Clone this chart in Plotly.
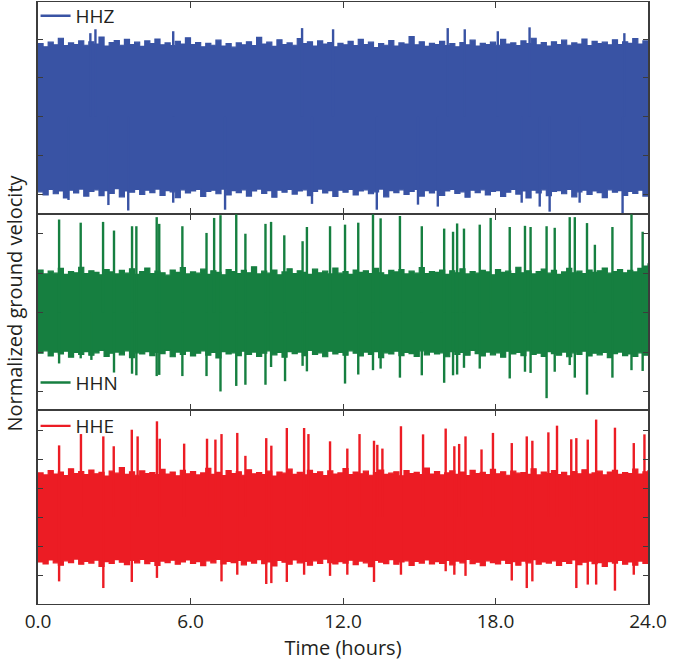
import numpy as np
import plotly.graph_objects as go
from plotly.subplots import make_subplots

# ---------------- data ----------------
channels = ["HHZ", "HHN", "HHE"]
colors = {"HHZ": "#3953a4", "HHN": "#167f40", "HHE": "#ec1c24"}

# envelope sample times (hours), every 0.2 h
env_t = np.arange(121) * 0.2

hhz_upper = [1.88, 1.80, 1.92, 1.85, 2.02, 1.83, 1.90, 1.86, 1.95, 1.84,
             1.93, 1.87, 2.05, 1.82, 1.91, 1.96, 1.84, 1.99, 1.86, 1.92,
             1.81, 1.95, 1.88, 2.00, 1.85, 1.90, 1.83, 1.94, 1.87, 2.03,
             1.86, 1.91, 1.80, 1.89, 1.84, 1.97, 1.82, 1.88, 1.79, 1.90,
             1.85, 1.93, 1.83, 2.04, 1.87, 1.92, 1.81, 1.98, 1.86, 1.90,
             1.84, 2.01, 1.88, 1.93, 1.82, 1.95, 1.87, 1.91, 1.80, 1.89,
             1.85, 1.94, 1.83, 1.99, 1.86, 1.92, 1.78, 1.88, 1.84, 1.96,
             1.82, 1.90, 1.87, 2.06, 1.85, 1.93, 1.81, 1.89, 1.86, 1.94,
             1.83, 1.88, 1.80, 1.91, 1.85, 1.97, 1.82, 1.89, 1.86, 1.92,
             1.84, 1.99, 1.87, 1.90, 1.83, 1.95, 1.88, 2.02, 1.85, 1.91,
             1.82, 1.93, 1.86, 1.97, 1.84, 1.90, 1.87, 2.00, 1.83, 1.94,
             1.88, 1.92, 1.85, 1.98, 1.86, 1.93, 1.89, 2.01, 1.87, 1.95, 1.90]
hhz_lower = [-1.92, -2.00, -1.86, -1.97, -1.90, -2.08, -1.88, -1.95, -1.85, -2.03,
             -1.91, -1.87, -2.02, -1.89, -1.96, -1.84, -2.05, -1.90, -1.93, -1.86,
             -1.99, -1.88, -1.94, -1.85, -2.01, -1.89, -1.92, -2.07, -1.87, -1.95,
             -1.90, -1.86, -2.04, -1.91, -1.88, -1.97, -1.85, -2.00, -1.89, -1.94,
             -1.87, -2.03, -1.90, -1.85, -1.96, -1.89, -2.06, -1.88, -1.93, -1.86,
             -1.98, -1.90, -1.87, -2.02, -1.91, -1.85, -1.95, -1.89, -2.04, -1.88,
             -1.93, -1.86, -2.00, -1.90, -1.87, -1.97, -1.92, -1.85, -2.05, -1.89,
             -1.94, -1.87, -1.99, -1.91, -1.86, -2.03, -1.89, -1.95, -1.88, -2.01,
             -1.90, -1.86, -1.96, -1.92, -2.06, -1.88, -1.94, -1.87, -2.00, -1.91,
             -1.89, -2.04, -1.93, -1.86, -1.98, -1.90, -2.08, -1.88, -1.95, -1.87,
             -2.02, -1.91, -1.89, -1.97, -1.86, -2.05, -1.92, -1.88, -1.99, -1.90,
             -1.94, -2.07, -1.87, -1.93, -1.89, -2.01, -1.91, -1.96, -1.88, -2.03, -1.92]
hhz_up_t = [2.06, 2.26, 5.32, 10.39, 11.61, 16.12, 16.79, 18.09, 19.34, 23.07]
hhz_up_v = [2.15, 2.25, 2.20, 2.28, 2.25, 2.28, 2.25, 2.20, 2.30, 2.15]
hhz_dn_t = [1.20, 2.77, 3.55, 5.32, 7.36, 10.78, 13.33, 14.95, 15.73, 19.03,
            19.74, 20.13, 21.31, 23.00]
hhz_dn_v = [-2.13, -2.26, -2.40, -2.20, -2.38, -2.23, -2.38, -2.25, -2.30, -2.20,
            -2.30, -2.43, -2.20, -2.52]

hhn_upper = [1.08, 0.98, 1.05, 1.00, 1.12, 0.97, 1.04, 1.01, 1.15, 0.99,
             1.06, 1.02, 0.96, 1.09, 1.03, 0.98, 1.07, 1.00, 1.11, 0.97,
             1.04, 1.13, 0.99, 1.05, 1.01, 0.95, 1.08, 1.02, 1.14, 0.98,
             1.03, 1.00, 1.10, 0.97, 1.06, 1.02, 0.96, 1.09, 1.04, 0.99,
             1.07, 1.01, 1.16, 0.98, 1.05, 1.00, 1.08, 0.96, 1.03, 1.11,
             0.99, 1.06, 1.02, 0.97, 1.10, 1.01, 1.05, 0.98, 1.13, 1.00,
             1.04, 0.97, 1.08, 1.02, 1.06, 0.99, 1.12, 1.01, 0.96, 1.07,
             1.03, 1.09, 0.98, 1.05, 1.00, 1.14, 0.99, 1.04, 1.02, 1.08,
             0.97, 1.06, 1.01, 1.11, 0.98, 1.04, 1.00, 1.07, 1.03, 0.96,
             1.09, 1.02, 1.05, 0.99, 1.15, 1.01, 1.06, 0.98, 1.04, 1.10,
             1.00, 1.07, 0.97, 1.03, 1.12, 1.01, 1.05, 0.99, 1.08, 1.02,
             1.06, 1.13, 1.00, 1.04, 1.09, 1.01, 1.07, 1.03, 1.12, 1.18, 1.25]
hhn_lower = [-1.03, -0.97, -1.10, -1.00, -1.05, -0.98, -1.13, -1.01, -1.06, -0.99,
             -1.08, -1.02, -0.96, -1.11, -1.03, -1.00, -1.07, -0.97, -1.14, -1.02,
             -1.05, -0.99, -1.09, -1.01, -1.04, -0.96, -1.12, -1.00, -1.06, -0.98,
             -1.10, -1.03, -0.97, -1.08, -1.01, -1.15, -0.99, -1.05, -1.02, -1.09,
             -0.98, -1.06, -1.00, -1.11, -1.03, -0.97, -1.07, -1.01, -1.13, -0.99,
             -1.04, -1.00, -1.09, -0.96, -1.06, -1.02, -1.12, -0.98, -1.05, -1.01,
             -1.08, -0.97, -1.03, -1.10, -1.00, -1.06, -0.99, -1.14, -1.02, -1.05,
             -0.98, -1.09, -1.01, -1.04, -1.11, -0.97, -1.07, -1.00, -1.05, -1.02,
             -1.12, -0.99, -1.06, -1.01, -1.08, -0.96, -1.04, -1.10, -1.00, -1.07,
             -1.02, -1.13, -0.98, -1.05, -1.01, -1.09, -0.97, -1.06, -1.03, -1.11,
             -0.99, -1.04, -1.08, -1.00, -1.12, -1.02, -1.06, -0.98, -1.10, -1.03,
             -1.07, -1.01, -1.14, -1.04, -1.00, -1.09, -1.05, -1.11, -1.02, -1.08, -1.06]
hhn_up_t = [0.83, 1.68, 2.56, 2.99, 3.70, 3.87, 4.67, 4.77, 5.68, 6.63,
            6.93, 7.18, 7.80, 8.16, 8.95, 9.17, 9.69, 10.41, 10.58, 11.49,
            12.08, 12.60, 13.18, 13.48, 14.24, 15.10, 15.98, 16.33, 16.49, 16.76,
            17.38, 17.81, 18.56, 19.16, 19.38, 20.01, 20.33, 20.92, 21.12, 21.60,
            21.91, 22.60, 23.35, 23.79]
hhn_up_v = [2.36, 2.28, 2.30, 2.08, 2.19, 2.19, 2.42, 2.25, 2.19, 2.02,
            2.40, 2.47, 2.49, 2.00, 2.25, 2.30, 1.96, 1.81, 2.17, 2.19,
            2.23, 2.28, 2.49, 2.39, 2.45, 2.19, 2.13, 2.05, 2.26, 2.13,
            2.23, 2.40, 2.17, 2.20, 2.17, 2.19, 2.15, 2.42, 2.42, 2.27,
            1.72, 2.17, 2.49, 2.05]
hhn_dn_t = [0.83, 1.68, 2.10, 2.99, 3.70, 3.87, 4.67, 4.77, 5.68, 6.63,
            7.18, 7.80, 8.16, 8.95, 9.17, 9.72, 10.41, 10.58, 12.08, 12.60,
            13.18, 13.48, 14.24, 15.10, 15.98, 16.33, 16.49, 16.76, 17.38, 18.56,
            19.16, 19.38, 20.01, 20.33, 20.92, 21.12, 21.60, 22.60, 23.35, 23.79]
hhn_dn_v = [-1.29, -1.16, -1.20, -1.52, -1.55, -1.59, -1.61, -1.58, -1.61, -1.61,
            -2.00, -1.86, -1.83, -1.83, -1.38, -1.74, -1.35, -1.49, -1.80, -1.57,
            -1.46, -1.42, -1.65, -1.59, -1.78, -1.59, -1.57, -1.40, -1.42, -1.67,
            -1.50, -1.53, -2.17, -1.50, -1.33, -1.65, -2.08, -1.65, -1.46, -1.48]

hhe_upper = [1.52, 1.45, 1.60, 1.48, 1.55, 1.43, 1.66, 1.50, 1.57, 1.46,
             1.62, 1.49, 1.54, 1.41, 1.58, 1.51, 1.70, 1.47, 1.56, 1.44,
             1.59, 1.50, 1.53, 1.46, 1.64, 1.48, 1.55, 1.42, 1.61, 1.49,
             1.57, 1.45, 1.52, 1.68, 1.47, 1.54, 1.43, 1.60, 1.50, 1.56,
             1.44, 1.63, 1.49, 1.53, 1.46, 1.58, 1.41, 1.55, 1.51, 1.65,
             1.47, 1.54, 1.45, 1.61, 1.50, 1.56, 1.43, 1.59, 1.48, 1.52,
             1.67, 1.46, 1.55, 1.49, 1.58, 1.44, 1.53, 1.62, 1.47, 1.51,
             1.56, 1.42, 1.60, 1.50, 1.54, 1.46, 1.69, 1.48, 1.57, 1.45,
             1.52, 1.59, 1.47, 1.55, 1.43, 1.61, 1.50, 1.54, 1.46, 1.64,
             1.49, 1.56, 1.44, 1.58, 1.51, 1.53, 1.47, 1.66, 1.45, 1.55,
             1.50, 1.60, 1.46, 1.54, 1.42, 1.57, 1.49, 1.63, 1.48, 1.52,
             1.58, 1.45, 1.55, 1.61, 1.47, 1.53, 1.50, 1.65, 1.48, 1.56, 1.62]
hhe_lower = [-1.55, -1.62, -1.48, -1.58, -1.66, -1.51, -1.57, -1.45, -1.63, -1.53,
             -1.59, -1.49, -1.70, -1.54, -1.60, -1.47, -1.56, -1.64, -1.50, -1.58,
             -1.46, -1.61, -1.53, -1.67, -1.52, -1.57, -1.49, -1.63, -1.55, -1.48,
             -1.60, -1.54, -1.68, -1.51, -1.58, -1.46, -1.62, -1.53, -1.57, -1.50,
             -1.65, -1.52, -1.59, -1.47, -1.61, -1.55, -1.69, -1.50, -1.56, -1.63,
             -1.48, -1.58, -1.53, -1.66, -1.51, -1.60, -1.45, -1.57, -1.62, -1.54,
             -1.59, -1.49, -1.64, -1.52, -1.58, -1.71, -1.50, -1.56, -1.61, -1.47,
             -1.63, -1.55, -1.51, -1.67, -1.53, -1.59, -1.48, -1.62, -1.54, -1.60,
             -1.50, -1.65, -1.52, -1.58, -1.46, -1.61, -1.56, -1.68, -1.51, -1.57,
             -1.62, -1.49, -1.60, -1.54, -1.66, -1.52, -1.58, -1.47, -1.63, -1.55,
             -1.59, -1.51, -1.67, -1.53, -1.60, -1.48, -1.64, -1.56, -1.52, -1.61,
             -1.57, -1.70, -1.54, -1.59, -1.50, -1.63, -1.55, -1.66, -1.52, -1.60, -1.58]
hhe_up_t = [0.83, 1.69, 2.57, 2.98, 3.69, 3.92, 4.68, 4.79, 5.75, 6.65,
            6.98, 7.22, 7.84, 8.16, 8.98, 9.18, 9.79, 10.47, 10.64, 11.49,
            12.17, 12.65, 13.22, 13.35, 13.55, 14.28, 15.15, 16.04, 16.38, 16.57,
            16.82, 17.45, 17.90, 18.64, 19.23, 19.45, 20.08, 20.42, 20.98, 21.18,
            21.63, 21.96, 22.70, 23.44, 23.86]
hhe_up_v = [2.47, 2.86, 2.78, 2.44, 3.01, 2.78, 3.30, 2.70, 2.53, 2.70,
            2.67, 2.86, 2.90, 2.11, 2.72, 2.46, 3.07, 3.07, 2.86, 2.61,
            2.36, 2.86, 2.63, 2.49, 2.36, 3.13, 2.85, 3.05, 2.44, 2.52,
            2.78, 2.33, 2.90, 2.55, 2.78, 2.63, 2.92, 3.15, 2.68, 2.72,
            2.67, 3.36, 3.08, 2.55, 2.85]
hhe_dn_t = [0.83, 2.57, 3.69, 4.68, 7.22, 7.84, 8.98, 9.18, 9.79, 10.47,
            11.49, 12.17, 13.22, 14.28, 16.04, 16.38, 16.82, 18.64, 19.23, 19.45,
            21.18, 21.63, 21.96, 22.70, 23.44]
hhe_dn_v = [-2.22, -2.45, -2.24, -2.10, -2.22, -1.99, -2.31, -2.28, -2.24, -1.99,
            -2.03, -1.99, -2.24, -1.99, -1.87, -1.99, -2.03, -2.19, -2.45, -2.22,
            -2.45, -2.33, -2.33, -2.54, -1.99]

x_ticks = [0, 6, 12, 18, 24]
x_ticklabels = ["0.0", "6.0", "12.0", "18.0", "24.0"]

# ---------------- figure ----------------
FONT = "Open Sans"
TXT = "#231f20"
AX = "#3c3c3c"

series = {
    "HHZ": (hhz_upper, hhz_lower, hhz_up_t, hhz_up_v, hhz_dn_t, hhz_dn_v),
    "HHN": (hhn_upper, hhn_lower, hhn_up_t, hhn_up_v, hhn_dn_t, hhn_dn_v),
    "HHE": (hhe_upper, hhe_lower, hhe_up_t, hhe_up_v, hhe_dn_t, hhe_dn_v),
}
yranges = {"HHZ": [-2.49, 2.95], "HHN": [-2.47, 2.50], "HHE": [-3.0, 3.69]}
ytickvals = {"HHZ": [-2, -1, 0, 1, 2], "HHN": [-2, -1, 0, 1, 2], "HHE": [-2, -1, 0, 1, 2, 3]}
legend_names = {"HHZ": "legend", "HHN": "legend2", "HHE": "legend3"}

fig = make_subplots(rows=3, cols=1, shared_xaxes=True, vertical_spacing=0,
                    row_heights=[212, 196, 194])

for r, ch in enumerate(channels, start=1):
    up, lo, ut, uv, dt, dv = series[ch]
    c = colors[ch]
    fig.add_trace(go.Scatter(x=env_t, y=lo, mode="lines", line=dict(color=c, width=1.2, shape="hv"),
                             showlegend=False, hoverinfo="skip"), row=r, col=1)
    fig.add_trace(go.Scatter(x=env_t, y=up, mode="lines", fill="tonexty", fillcolor=c,
                             line=dict(color=c, width=1.2, shape="hv"), showlegend=False,
                             hoverinfo="skip"), row=r, col=1)
    sx, sy = [], []
    for t, v in zip(ut, uv):
        sx += [t, t, None]
        sy += [0, v, None]
    for t, v in zip(dt, dv):
        sx += [t, t, None]
        sy += [0, v, None]
    fig.add_trace(go.Scatter(x=sx, y=sy, mode="lines", line=dict(color=c, width=2.4),
                             name=ch, legend=legend_names[ch], showlegend=True,
                             hoverinfo="skip"), row=r, col=1)
    fig.update_yaxes(range=yranges[ch], tickvals=ytickvals[ch], showticklabels=False,
                     ticks="inside", ticklen=5, tickwidth=1.2, tickcolor=AX,
                     showline=True, linecolor=AX, linewidth=1.5, mirror="ticks",
                     showgrid=False, zeroline=False, row=r, col=1)
    fig.update_xaxes(range=[0, 24], tickvals=x_ticks, ticktext=x_ticklabels,
                     showticklabels=(r == 3), ticks="inside", ticklen=6, tickwidth=1.2,
                     tickcolor=AX, showline=True, linecolor=AX, linewidth=1.0,
                     mirror="ticks", showgrid=False, zeroline=False, row=r, col=1)

fig.update_xaxes(title=dict(text="Time (hours)", font=dict(size=20, color=TXT, family=FONT),
                            standoff=6),
                 tickfont=dict(size=19, color=TXT, family=FONT), row=3, col=1)

leg_common = dict(x=-0.004, xanchor="left", yanchor="middle", bgcolor="rgba(0,0,0,0)",
                  font=dict(size=19, color=TXT, family=FONT), borderwidth=0,
                  itemwidth=30, tracegroupgap=0)
fig.update_layout(
    width=690, height=670,
    margin=dict(l=38, r=42, t=2, b=66, autoexpand=False),
    paper_bgcolor="white", plot_bgcolor="white",
    font=dict(family=FONT, color=TXT, size=19),
    legend=dict(y=0.977, **leg_common),
    legend2=dict(y=0.3676, **leg_common),
    legend3=dict(y=0.2957, **leg_common),
    annotations=[dict(text="Normalized ground velocity", xref="paper", yref="paper",
                      x=-0.040, y=0.5, xanchor="center", yanchor="middle",
                      textangle=-90, showarrow=False,
                      font=dict(size=20, color=TXT, family=FONT))],
)

fig.write_html("out.html", config={"displayModeBar": False},
               post_script="document.body.style.margin='0';document.body.style.padding='0';")
